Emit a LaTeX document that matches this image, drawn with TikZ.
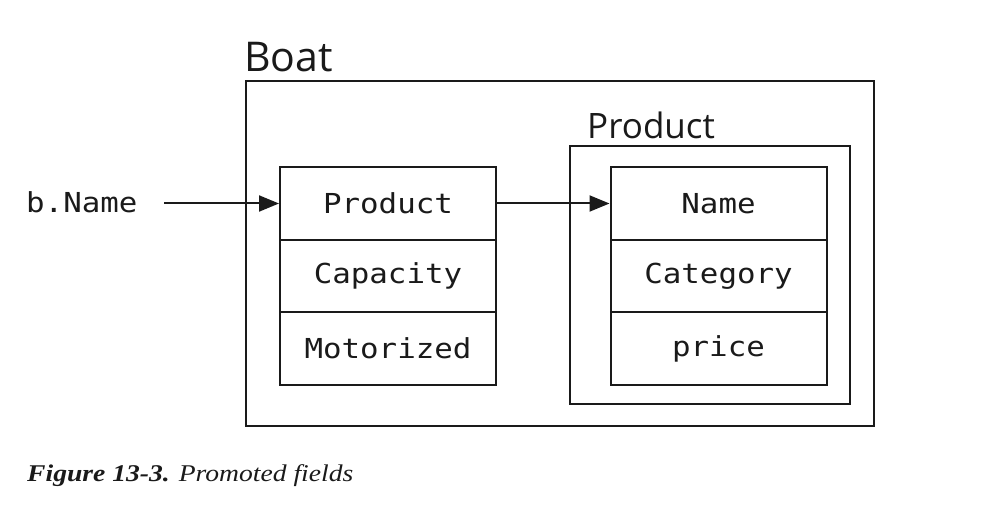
\documentclass[tikz,border=0pt]{standalone}
\usepackage{fontspec}
\usetikzlibrary{arrows.meta}
\newfontfamily\fieldfont[FakeStretch=1.12]{DejaVu Sans Mono}
\newfontfamily\labelfont{Open Sans}
\newfontfamily\capfont[FakeStretch=1.15]{Liberation Serif}
\definecolor{ink}{HTML}{1A1A1A}
\tikzset{
  box/.style={draw=ink, line width=2.4pt, inner sep=0pt},
  cell/.style={draw=ink, line width=2pt, minimum width=216pt, minimum height=72.5pt, inner sep=0pt,
    text=ink, font=\fieldfont\fontsize{27.5}{30}\selectfont},
  lbl/.style={anchor=base west, inner sep=0pt, text=ink},
  arr/.style={draw=ink, line width=2pt, -{Triangle[length=20pt,width=16pt]}}
}
\begin{document}
\begin{tikzpicture}[x=1pt,y=-1pt]
\useasboundingbox[fill=white] (0,0) rectangle (1008,518);
% outer Boat box
\node[box, minimum width=628pt, minimum height=345pt] (boat) at (560,253.5) {};
\node[lbl, font=\labelfont\fontsize{41}{44}\selectfont] (boatlbl) at (244,72) {Boat};
% inner Product box
\node[box, line width=2pt, minimum width=280pt, minimum height=258pt] (prod) at (710,275) {};
\node[lbl, font=\labelfont\fontsize{35}{40}\selectfont] (prodlbl) at (587,138.5) {Product};
% left cells
\node[cell] (p1) at (388,203.5) {Product};
\node[cell] (p2) at (388,276) {Capacity};
\node[cell] (p3) at (388,348.5) {Motorized};
% right cells
\node[cell] (n1) at (718.5,203.5) {Name};
\node[cell] (n2) at (718.5,276) {Category};
\node[cell] (n3) at (718.5,348.5) {price};
% b.Name
\node[lbl, font=\fieldfont\fontsize{27.5}{30}\selectfont] (bname) at (26,213) {b.Name};
\coordinate (bstart) at (164,203.5);
\draw[arr] (bstart) -- (p1.west);
\draw[arr] (p1.east) -- (n1.west);
% caption
\node[lbl, font=\capfont\fontsize{24}{28}\selectfont] (cap) at (27,481) {\textbf{\textit{Figure 13-3.}}\hspace{9pt}\textit{Promoted fields}};
\end{tikzpicture}
\end{document}
